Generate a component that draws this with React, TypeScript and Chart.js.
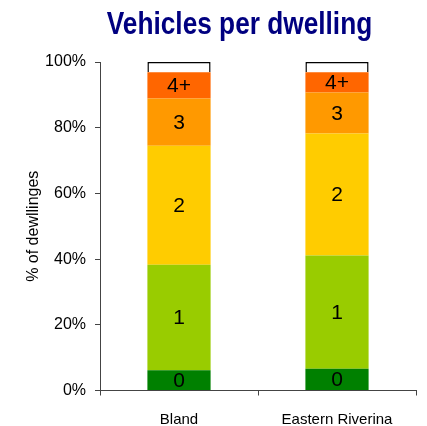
import React, { useEffect, useRef } from "react";
import { Chart, registerables } from "chart.js";

Chart.register(...registerables);

const categories = ["Bland", "Eastern Riverina"];
const segmentLabels = ["0", "1", "2", "3", "4+", "Not stated"];
const vehicles0 = [6.2, 6.6];
const vehicles1 = [32.1, 34.5];
const vehicles2 = [36.2, 37.1];
const vehicles3 = [14.4, 12.5];
const vehicles4plus = [8.0, 6.2];
const notStated = [3.1, 3.1];
const yTicks = [0, 20, 40, 60, 80, 100];
const titleText = "Vehicles per dwelling";
const yAxisTitle = "% of dewllinges";

const colors = ["#008000", "#99CC00", "#FFCC00", "#FF9900", "#FF6600", "#FFFFFF"];

const FONT = "'Liberation Sans', Arial, Helvetica, sans-serif";

const segmentLabelPlugin = {
  id: "segmentLabels",
  afterDatasetsDraw(chart: any) {
    const ctx = chart.ctx;
    ctx.save();
    ctx.font = `21px ${FONT}`;
    ctx.fillStyle = "#000";
    ctx.textAlign = "center";
    ctx.textBaseline = "middle";
    chart.data.datasets.forEach((ds: any, di: number) => {
      if (ds.label === "Not stated") return;
      const meta = chart.getDatasetMeta(di);
      meta.data.forEach((el: any) => {
        const p = el.getProps(["x", "y", "base"], true);
        ctx.fillText(ds.label, p.x, (p.y + p.base) / 2 + 1);
      });
    });
    ctx.restore();
  },
};

const titlePlugin = {
  id: "customTitle",
  afterDraw(chart: any) {
    const ctx = chart.ctx;
    ctx.save();
    ctx.font = `bold 32px ${FONT}`;
    ctx.fillStyle = "#000080";
    ctx.textAlign = "center";
    ctx.textBaseline = "alphabetic";
    ctx.translate(239.5, 33.5);
    ctx.scale(0.82, 1);
    ctx.fillText(titleText, 0, 0);
    ctx.restore();
  },
};

export default function App() {
  const ref = useRef<HTMLCanvasElement>(null);

  useEffect(() => {
    if (!ref.current) return;
    const series = [vehicles0, vehicles1, vehicles2, vehicles3, vehicles4plus, notStated];
    const chart = new Chart(ref.current, {
      type: "bar",
      data: {
        labels: categories,
        datasets: series.map((data, i) => ({
          label: segmentLabels[i],
          data,
          backgroundColor: colors[i],
          borderColor: i === 5 ? "#000" : colors[i],
          borderWidth: i === 5 ? 1.5 : 0,
          barPercentage: 0.4,
          categoryPercentage: 1,
        })),
      },
      options: {
        animation: false,
        responsive: false,
        maintainAspectRatio: false,
        layout: { padding: { top: 62, right: 11, left: 0, bottom: 0 } },
        plugins: {
          legend: { display: false },
          title: { display: false },
          tooltip: { enabled: false },
        },
        scales: {
          x: {
            stacked: true,
            grid: { drawOnChartArea: false, drawTicks: true, tickLength: 5, color: "#444" },
            border: { display: true, color: "#444", width: 1 },
            ticks: { color: "#000", font: { size: 15, family: FONT }, padding: 15 },
            afterFit: (s: any) => { s.height = 35.5; },
          },
          y: {
            stacked: true,
            min: 0,
            max: 100,
            afterBuildTicks: (s: any) => { s.ticks = yTicks.map((v) => ({ value: v })); },
            grid: { drawOnChartArea: false, drawTicks: true, tickLength: 5, color: "#444" },
            border: { display: true, color: "#444", width: 1 },
            ticks: {
              color: "#000",
              font: { size: 16, family: FONT },
              padding: 9,
              callback: (v: any) => `${v}%`,
            },
            title: {
              display: true,
              text: yAxisTitle,
              color: "#000",
              font: { size: 16, family: FONT },
              padding: { top: 24, bottom: 0 },
            },
            afterFit: (s: any) => { s.width = 100; },
          },
        },
      },
      plugins: [segmentLabelPlugin, titlePlugin],
    });
    return () => chart.destroy();
  }, []);

  return (
    <div style={{ position: "fixed", left: 0, top: 0, width: 427, height: 426, background: "#fff" }}>
      <canvas ref={ref} width={427} height={426} style={{ display: "block" }} />
    </div>
  );
}
